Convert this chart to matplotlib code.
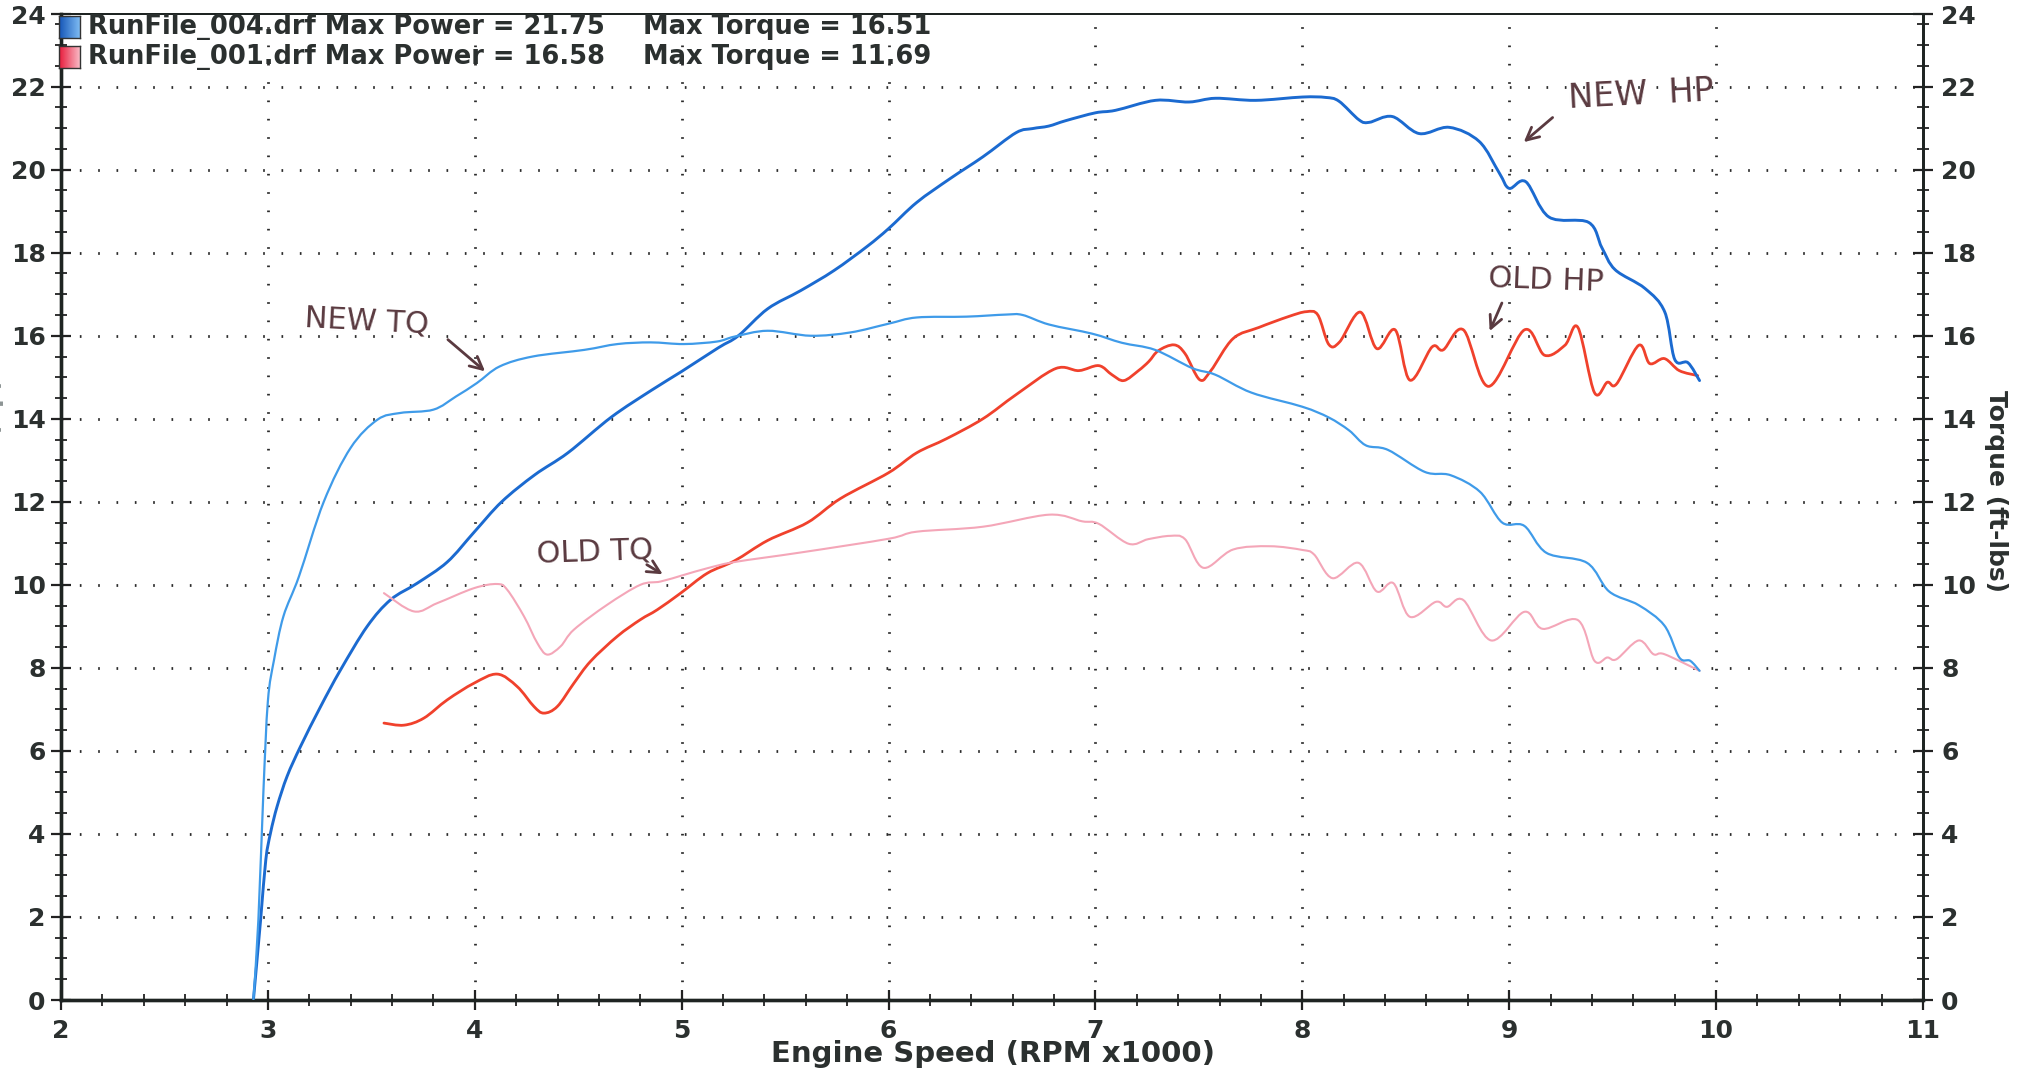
import numpy as np
import matplotlib
matplotlib.use("Agg")
import matplotlib.pyplot as plt
from matplotlib.ticker import MultipleLocator, FixedLocator
from matplotlib.path import Path
from matplotlib.patches import PathPatch
from matplotlib.font_manager import FontProperties

# ---------------- data (read from the dyno sheet) ----------------
rpm_new_hp = [
    2.93, 2.965, 2.99, 3.013, 3.045, 3.093, 3.158, 3.255, 3.351, 3.48,
    3.593, 3.722, 3.867, 3.997, 4.13, 4.29, 4.45, 4.66, 4.855, 5.0,
    5.177, 5.274, 5.416, 5.576, 5.736, 5.896, 6.0, 6.136, 6.296, 6.456,
    6.616, 6.696, 6.774, 6.856, 7.0, 7.097, 7.29, 7.452, 7.58, 7.774,
    8.0, 8.113, 8.177, 8.274, 8.323, 8.435, 8.565, 8.71, 8.855, 8.952,
    9.0, 9.08, 9.192, 9.384, 9.448, 9.512, 9.656, 9.752, 9.8, 9.864,
    9.92]
hp_new = [
    0.0, 1.94, 3.38, 4.03, 4.67, 5.39, 6.11, 7.07, 7.95, 9.0,
    9.64, 10.04, 10.55, 11.27, 12.0, 12.65, 13.18, 14.04, 14.69, 15.14,
    15.71, 16.0, 16.65, 17.09, 17.57, 18.15, 18.58, 19.21, 19.78, 20.31,
    20.89, 20.99, 21.05, 21.18, 21.37, 21.43, 21.67, 21.63, 21.72, 21.67,
    21.75, 21.74, 21.65, 21.2, 21.14, 21.28, 20.87, 21.02, 20.68, 19.92,
    19.55, 19.71, 18.86, 18.73, 18.12, 17.59, 17.14, 16.57, 15.43, 15.35,
    14.92]

rpm_new_tq = [
    2.93, 2.954, 2.978, 3.0, 3.03, 3.075, 3.15, 3.27, 3.40, 3.53,
    3.64, 3.80, 3.91, 4.01, 4.12, 4.28, 4.53, 4.69, 4.85, 5.01,
    5.17, 5.256, 5.416, 5.624, 5.816, 6.0, 6.136, 6.376, 6.568, 6.648,
    6.776, 6.984, 7.128, 7.288, 7.468, 7.58, 7.754, 8.0, 8.128, 8.226,
    8.307, 8.414, 8.592, 8.717, 8.859, 8.966, 9.073, 9.18, 9.376, 9.483,
    9.626, 9.75, 9.822, 9.875, 9.92]
tq_new = [
    0.0, 1.93, 4.98, 7.2, 8.2, 9.24, 10.2, 12.0, 13.3, 13.98,
    14.14, 14.22, 14.54, 14.86, 15.26, 15.5, 15.66, 15.8, 15.84, 15.8,
    15.86, 15.98, 16.12, 16.0, 16.08, 16.29, 16.44, 16.46, 16.51, 16.5,
    16.27, 16.05, 15.83, 15.66, 15.22, 15.06, 14.63, 14.29, 14.03, 13.72,
    13.36, 13.25, 12.72, 12.64, 12.24, 11.5, 11.42, 10.77, 10.53, 9.84,
    9.51, 9.02, 8.25, 8.17, 7.93]

rpm_old_hp = [
    3.561, 3.658, 3.754, 3.867, 3.996, 4.109, 4.205, 4.286, 4.334, 4.399,
    4.479, 4.56, 4.689, 4.80, 4.882, 4.995, 5.124, 5.256, 5.416, 5.608,
    5.768, 6.0, 6.136, 6.28, 6.456, 6.616, 6.808, 6.92, 7.016, 7.08,
    7.137, 7.208, 7.258, 7.304, 7.38, 7.433, 7.504, 7.558, 7.665, 7.79,
    7.932, 8.02, 8.075, 8.128, 8.18, 8.28, 8.36, 8.449, 8.52, 8.627,
    8.681, 8.779, 8.9, 9.073, 9.171, 9.269, 9.332, 9.412, 9.474, 9.519,
    9.626, 9.679, 9.75, 9.822, 9.911]
hp_old = [
    6.67, 6.62, 6.79, 7.23, 7.63, 7.85, 7.55, 7.07, 6.91, 7.07,
    7.63, 8.16, 8.76, 9.16, 9.40, 9.80, 10.28, 10.58, 11.07, 11.5,
    12.08, 12.70, 13.18, 13.52, 14.0, 14.58, 15.21, 15.16, 15.28, 15.06,
    14.92, 15.16, 15.38, 15.64, 15.78, 15.57, 14.94, 15.16, 15.93, 16.2,
    16.46, 16.58, 16.5, 15.79, 15.85, 16.57, 15.69, 16.14, 14.93, 15.73,
    15.66, 16.14, 14.78, 16.14, 15.53, 15.77, 16.2, 14.63, 14.88, 14.84,
    15.77, 15.33, 15.45, 15.16, 15.04]

rpm_old_tq = [
    3.561, 3.706, 3.819, 3.996, 4.109, 4.157, 4.238, 4.302, 4.35, 4.415,
    4.479, 4.64, 4.80, 4.898, 5.011, 5.124, 5.256, 5.576, 6.0, 6.136,
    6.456, 6.776, 6.936, 7.016, 7.16, 7.255, 7.362, 7.433, 7.522, 7.665,
    7.843, 8.0, 8.057, 8.146, 8.271, 8.36, 8.44, 8.52, 8.645, 8.699,
    8.779, 8.913, 9.073, 9.162, 9.332, 9.412, 9.474, 9.519, 9.626, 9.697,
    9.75, 9.92]
tq_old = [
    9.80, 9.36, 9.56, 9.92, 10.02, 9.88, 9.24, 8.60, 8.32, 8.52,
    8.92, 9.52, 10.0, 10.08, 10.24, 10.4, 10.55, 10.78, 11.11, 11.28,
    11.40, 11.69, 11.53, 11.47, 10.99, 11.1, 11.18, 11.1, 10.41, 10.85,
    10.93, 10.84, 10.73, 10.16, 10.53, 9.84, 10.04, 9.23, 9.59, 9.47,
    9.63, 8.66, 9.35, 8.94, 9.15, 8.17, 8.25, 8.21, 8.66, 8.33,
    8.33, 7.93]

run_names = ["RunFile_004.drf", "RunFile_001.drf"]
y_tick_values = [0, 2, 4, 6, 8, 10, 12, 14, 16, 18, 20, 22]
x_tick_values = [2, 3, 4, 5, 6, 7, 8, 9, 10, 11]

# ---------------- styling ----------------
C_HP_NEW = "#1b6ad0"
C_TQ_NEW = "#3f9be9"
C_HP_OLD = "#f0412c"
C_TQ_OLD = "#f4a6b8"
C_INK = "#5a3a40"
C_TXT = "#2b302f"
FONT = ["DejaVu Sans"]

W, H = 2028, 1071
fig = plt.figure(figsize=(W / 100, H / 100), dpi=100)
fig.patch.set_facecolor("white")

ax_l, ax_r, ax_b, ax_t = 61, 1923, 1000, 14
ax = fig.add_axes([ax_l / W, 1 - ax_b / H, (ax_r - ax_l) / W, (ax_b - ax_t) / H])
ax.set_xlim(2, 11)
YTOP = 23.75
ax.set_ylim(0, YTOP)

ax2 = ax.twinx()
ax2.set_ylim(0, YTOP)


def smooth_curve(a, xs, ys, color, lw, z):
    """Draw a smooth pen-like trace through the read points (Catmull-Rom as cubic Bezier)."""
    p = np.column_stack([xs, ys]).astype(float)
    n = len(p)
    verts = [p[0]]
    codes = [Path.MOVETO]
    for i in range(n - 1):
        p0 = p[i - 1] if i > 0 else p[i]
        p1, p2 = p[i], p[i + 1]
        p3 = p[i + 2] if i + 2 < n else p[i + 1]
        c1 = p1 + (p2 - p0) / 6.0
        c2 = p2 - (p3 - p1) / 6.0
        verts += [c1, c2, p2]
        codes += [Path.CURVE4] * 3
    patch = PathPatch(Path(verts, codes), fill=False, edgecolor=color, lw=lw,
                      zorder=z, capstyle="round", joinstyle="round")
    a.add_patch(patch)


# grid
for xv in x_tick_values[1:-1]:
    ax.axvline(xv, color="#2a2a2a", lw=2.0, ls=(0, (0.6, 6.0)), zorder=1)
for yv in y_tick_values[1:]:
    ax.axhline(yv, color="#2a2a2a", lw=2.0, ls=(0, (0.6, 6.0)), zorder=1)

# curves
smooth_curve(ax, rpm_old_hp, hp_old, C_HP_OLD, 2.0, 3)
smooth_curve(ax, rpm_new_hp, hp_new, C_HP_NEW, 2.1, 4)
smooth_curve(ax2, rpm_old_tq, tq_old, C_TQ_OLD, 1.5, 3)
smooth_curve(ax2, rpm_new_tq, tq_new, C_TQ_NEW, 1.6, 4)

# ticks
ylocs = y_tick_values + [YTOP]
ylabs = [str(v) for v in y_tick_values] + ["24"]
for a in (ax, ax2):
    a.yaxis.set_major_locator(FixedLocator(ylocs))
    a.set_yticklabels(ylabs)
    a.yaxis.set_minor_locator(MultipleLocator(0.5))
ax.xaxis.set_major_locator(FixedLocator(x_tick_values))
ax.set_xticklabels([str(v) for v in x_tick_values])
ax.xaxis.set_minor_locator(MultipleLocator(0.2))

tick_fp = FontProperties(family=FONT, weight="bold", size=18)
for a in (ax, ax2):
    a.tick_params(which="major", direction="inout", length=14, width=1.6, color="#222222",
                  labelcolor=C_TXT)
    a.tick_params(which="minor", direction="inout", length=9, width=1.3, color="#222222")
    for lab in a.get_yticklabels() + a.get_xticklabels():
        lab.set_fontproperties(tick_fp)
ax.tick_params(axis="y", pad=4)
ax.tick_params(axis="x", pad=7)
ax2.tick_params(axis="y", pad=6)
ax2.tick_params(axis="x", which="both", length=0)

for a in (ax, ax2):
    a.spines["left"].set_linewidth(2.4)
    a.spines["bottom"].set_linewidth(2.4)
    a.spines["top"].set_linewidth(1.4)
    a.spines["right"].set_linewidth(2.0)
    for s in a.spines.values():
        s.set_color("#1e2422")
ax.set_zorder(2)
ax2.set_zorder(3)
ax2.patch.set_visible(False)

# axis titles
fig.text(993 / W, 1 - 1054 / H, "Engine Speed (RPM x1000)", ha="center", va="center",
         family=FONT, weight="bold", size=21, color=C_TXT)
fig.text(1996 / W, 1 - 491 / H, "Torque (ft-lbs)", ha="center", va="center", rotation=270,
         family=FONT, weight="bold", size=18, color=C_TXT)
# left axis title: only its edge shows on the scanned sheet
fig.text(4 / W, 1 - 455 / H, "Power (hp)", ha="right", va="center", rotation=90,
         family=FONT, weight="bold", size=18, color="#8d9494")

# legend block
rows = [
    (run_names[0], max(hp_new), max(tq_new), ("#1556b8", "#7dbaf2")),
    (run_names[1], max(hp_old), max(tq_old), ("#e81c3c", "#f9b8c4")),
]
row_y = [27, 57]
for (name, mp, mt, cols), yy in zip(rows, row_y):
    fig.text(88 / W, 1 - yy / H, f"{name} Max Power = {mp:.2f}", ha="left", va="center",
             family=FONT, weight="bold", size=18.5, color=C_TXT)
    fig.text(643 / W, 1 - yy / H, f"Max Torque = {mt:.2f}", ha="left", va="center",
             family=FONT, weight="bold", size=18.5, color=C_TXT)
    sq = fig.add_axes([59 / W, 1 - (yy + 11) / H, 21 / W, 22 / H])
    grad = np.linspace(0, 1, 32)[None, :]
    cmap = matplotlib.colors.LinearSegmentedColormap.from_list("g", list(cols))
    sq.imshow(grad, cmap=cmap, aspect="auto", extent=[0, 1, 0, 1])
    sq.set_xticks([]); sq.set_yticks([])
    for s in sq.spines.values():
        s.set_linewidth(1.0); s.set_color("#333333")
    sq.set_zorder(10)

# hand-written notes
note = dict(color=C_INK, family=FONT, size=22, ha="center", va="center", zorder=6)
arrow = dict(arrowstyle="->,head_length=0.9,head_width=0.45", color=C_INK, lw=2.0)
ax.text(3.48, 16.36, "NEW TQ", rotation=-3, **note)
ax.annotate("", xy=(4.06, 15.10), xytext=(3.86, 15.95), arrowprops=arrow, zorder=6)
ax.text(4.58, 10.78, "OLD TQ", rotation=2, **note)
ax.annotate("", xy=(4.92, 10.22), xytext=(4.82, 10.52), arrowprops=arrow, zorder=6)
ax.text(9.64, 21.80, "NEW  HP", rotation=3, **dict(note, size=24))
ax.annotate("", xy=(9.06, 20.62), xytext=(9.22, 21.30), arrowprops=arrow, zorder=6)
ax.text(9.18, 17.32, "OLD HP", rotation=-2, **note)
ax.annotate("", xy=(8.90, 16.05), xytext=(8.97, 16.85), arrowprops=arrow, zorder=6)

fig.savefig("out.png", dpi=100, facecolor="white")
